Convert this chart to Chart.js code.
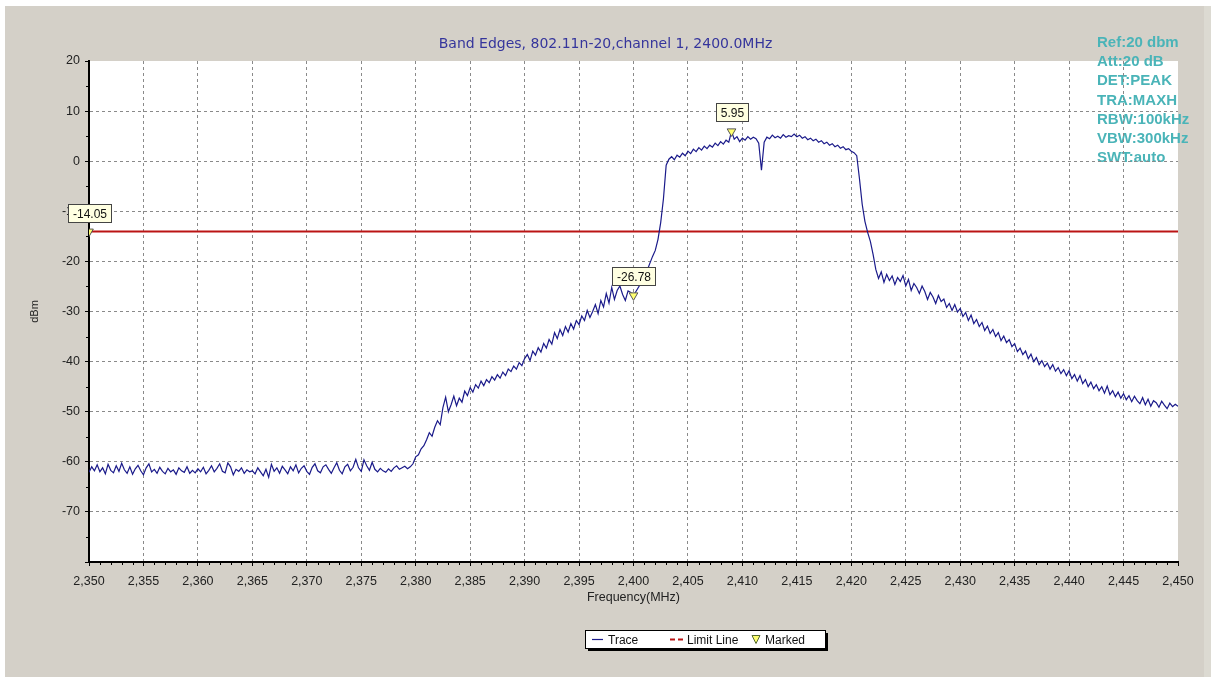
<!DOCTYPE html>
<html>
<head>
<meta charset="utf-8">
<script src="https://cdn.jsdelivr.net/npm/chart.js@4/dist/chart.umd.min.js"></script>
<style>
  html, body { margin: 0; padding: 0; background: #d4d0c8; }
  canvas { display: block; }
</style>
</head>
<body>
<canvas id="bandChart" width="1211" height="677"></canvas>
<script>
// 頻譜掃描資料 (每 0.25 MHz 一點, 從 2350 MHz 起)
const traceStartMHz = 2350;
const traceStepMHz = 0.25;
const traceLevels = [
  -62.1,-61.0,-61.8,-60.6,-62.0,-61.2,-62.4,-60.5,-61.7,-62.2,-60.8,-61.9,-60.3,-61.6,-62.3,-61.0,-62.5,-61.4,-60.7,-61.8,
  -62.6,-61.2,-60.4,-62.0,-61.5,-62.3,-61.1,-61.9,-62.4,-61.3,-62.0,-61.6,-62.5,-61.2,-61.8,-62.1,-61.0,-62.3,-61.7,-62.2,
  -61.4,-62.0,-61.1,-62.4,-61.7,-60.8,-62.0,-61.3,-60.4,-61.9,-62.2,-60.2,-61.0,-62.6,-61.5,-61.9,-61.2,-62.3,-61.6,-62.0,
  -61.8,-62.4,-61.2,-62.0,-62.8,-61.5,-63.1,-60.5,-61.9,-61.2,-62.3,-60.9,-61.6,-62.4,-61.0,-61.8,-60.6,-62.2,-61.3,-60.8,
  -61.9,-62.5,-61.1,-60.4,-61.8,-62.2,-61.0,-60.6,-61.5,-62.3,-61.2,-60.2,-61.7,-62.4,-61.0,-60.5,-61.8,-61.1,-59.5,-61.2,
  -61.9,-59.6,-60.8,-61.7,-60.1,-61.5,-62.0,-61.3,-61.8,-62.1,-61.4,-61.9,-61.2,-60.8,-61.5,-61.2,-60.9,-61.4,-61.0,-60.4,
  -59.0,-58.6,-57.4,-56.8,-55.6,-54.2,-54.9,-53.1,-51.8,-52.6,-49.2,-47.1,-50.0,-48.6,-46.9,-48.8,-47.3,-48.1,-45.9,-46.8,
  -45.2,-46.1,-44.6,-45.3,-43.9,-44.8,-43.6,-44.2,-43.0,-43.7,-42.6,-43.3,-42.1,-42.8,-41.5,-42.0,-40.9,-41.5,-40.2,-40.8,
  -39.4,-38.6,-39.8,-37.9,-38.7,-37.2,-38.1,-36.4,-37.3,-35.6,-36.5,-34.2,-35.4,-33.6,-34.8,-33.0,-34.1,-32.4,-33.5,-31.8,
  -32.6,-30.9,-31.8,-29.8,-31.2,-30.0,-28.6,-30.4,-27.8,-29.1,-26.4,-28.3,-25.2,-27.6,-25.8,-24.9,-26.6,-27.8,-25.9,-26.2,
  -26.8,-25.9,-25.0,-24.1,-23.0,-21.8,-20.4,-19.0,-17.8,-15.6,-12.2,-7.5,-0.8,0.4,0.9,0.3,1.2,0.8,1.6,1.1,
  2.0,1.5,2.4,1.9,2.7,2.2,3.0,2.5,3.2,2.8,3.6,3.1,3.9,3.4,4.2,3.8,5.95,4.4,4.9,3.9,
  4.6,4.2,4.9,4.4,4.8,4.5,3.6,-1.8,3.8,4.8,4.5,5.2,4.7,5.0,4.6,5.3,4.8,5.1,4.9,5.4,
  4.9,5.2,4.6,4.9,4.3,4.6,4.1,4.4,3.8,4.1,3.5,3.8,3.2,3.5,2.9,3.2,2.6,2.9,2.3,2.5,
  2.0,1.7,1.1,-3.5,-8.6,-12.0,-14.2,-16.0,-18.6,-21.6,-23.4,-22.1,-24.2,-22.6,-23.8,-22.9,-24.6,-23.2,-24.0,-22.8,
  -24.9,-23.6,-25.8,-24.4,-25.2,-26.4,-24.9,-26.0,-27.6,-26.2,-27.1,-28.4,-26.8,-28.0,-27.5,-29.2,-28.4,-29.8,-28.6,-30.1,
  -29.4,-31.0,-30.2,-31.8,-30.7,-32.4,-31.6,-33.0,-32.2,-33.8,-32.9,-34.4,-33.6,-35.0,-34.2,-35.8,-34.9,-36.2,-35.6,-37.0,
  -36.4,-38.0,-37.3,-38.6,-37.9,-39.4,-38.5,-40.0,-39.2,-40.6,-39.8,-41.0,-40.3,-41.5,-40.6,-41.9,-41.2,-42.4,-41.6,-42.8,
  -41.8,-43.4,-42.6,-43.9,-42.8,-44.4,-43.6,-45.0,-44.1,-45.4,-44.6,-45.8,-45.0,-46.3,-44.9,-46.6,-45.8,-47.0,-46.1,-47.3,
  -46.4,-47.6,-46.8,-48.0,-46.9,-47.8,-48.4,-47.2,-48.6,-47.5,-48.9,-47.8,-48.2,-49.1,-47.9,-48.7,-49.4,-48.3,-49.0,-48.5,
  -48.9
];

// 限制線
const limitFreqs = [2350, 2450];
const limitLevel = -14.05;

// 標記點
const markerFreqs = [2350, 2400, 2409];
const markerLevels = [-14.05, -26.78, 5.95];

// 軸設定
const xMin = 2350, xMax = 2450, xStep = 5;
const yMin = -80, yMax = 20, yStep = 10;

// 右上角儀器設定文字
const infoLines = ['Ref:20 dbm', 'Att:20 dB', 'DET:PEAK', 'TRA:MAXH', 'RBW:100kHz', 'VBW:300kHz', 'SWT:auto'];

const chartTitle = 'Band Edges, 802.11n-20,channel 1, 2400.0MHz';
const labelFont = '"Liberation Sans", Arial, sans-serif';

const tracePoints = traceLevels.map((v, i) => ({ x: traceStartMHz + i * traceStepMHz, y: v }));
const limitPoints = limitFreqs.map(f => ({ x: f, y: limitLevel }));
const markerPoints = markerFreqs.map((f, i) => ({ x: f, y: markerLevels[i] }));

const COLORS = {
    panel: '#d4d0c8',
    trace: '#1a1a8a',
    limit: '#bb1414',
    grid: '#8a8a8a',
    title: '#35359c',
    info: '#4ab4b8',
    marker: '#ffff70'
};

/**
 * 背景與儀器設定文字
 */
const backgroundPlugin = {
    id: 'background',
    beforeDraw(chart) {
        const { ctx, chartArea: a, width, height } = chart;
        ctx.save();
        ctx.fillStyle = COLORS.panel;
        ctx.fillRect(0, 0, width, height);
        ctx.fillStyle = '#ffffff';
        ctx.fillRect(0, 0, width, 6);
        ctx.fillRect(0, 0, 5, height);
        ctx.fillStyle = '#dcdad2';
        ctx.fillRect(width - 7, 6, 7, height - 6);
        ctx.fillStyle = '#ffffff';
        ctx.fillRect(a.left, a.top, a.right - a.left, a.bottom - a.top);

        ctx.fillStyle = COLORS.info;
        ctx.font = 'bold 15px ' + labelFont;
        ctx.textAlign = 'left';
        ctx.textBaseline = 'alphabetic';
        infoLines.forEach((line, i) => {
            ctx.fillText(line, 1097, 47 + i * 19.2);
        });
        ctx.restore();
    }
};

/**
 * 次刻度、標記標籤與圖例
 */
const overlayPlugin = {
    id: 'overlay',
    afterDraw(chart) {
        const { ctx, chartArea: a } = chart;
        const xs = chart.scales.x;
        const ys = chart.scales.y;
        ctx.save();

        // 次刻度
        ctx.strokeStyle = '#000';
        ctx.lineWidth = 1;
        ctx.beginPath();
        for (let f = xMin + 1; f < xMax; f += 1) {
            if (f % xStep === 0) continue;
            const px = Math.round(xs.getPixelForValue(f)) + 0.5;
            ctx.moveTo(px, a.bottom);
            ctx.lineTo(px, a.bottom + 3);
        }
        for (let v = yMin + 5; v < yMax; v += yStep) {
            const py = Math.round(ys.getPixelForValue(v)) + 0.5;
            ctx.moveTo(a.left - 3, py);
            ctx.lineTo(a.left, py);
        }
        ctx.stroke();

        // 標記數值框
        ctx.font = '12px ' + labelFont;
        ctx.textAlign = 'center';
        ctx.textBaseline = 'middle';
        markerFreqs.forEach((f, i) => {
            const px = xs.getPixelForValue(f);
            const py = ys.getPixelForValue(markerLevels[i]);
            const text = markerLevels[i].toFixed(2);
            const w = Math.ceil(ctx.measureText(text).width) + 8;
            const h = 18;
            const bx = Math.round(px - w / 2) + 0.5;
            const by = Math.round(py - 10 - h) + 0.5;
            ctx.fillStyle = '#ffffe1';
            ctx.fillRect(bx, by, w, h);
            ctx.strokeStyle = '#444';
            ctx.strokeRect(bx, by, w, h);
            ctx.fillStyle = '#111';
            ctx.fillText(text, bx + w / 2, by + h / 2 + 1);
        });

        // 圖例
        const lx = 585, ly = 630, lw = 240, lh = 18;
        ctx.fillStyle = '#000';
        ctx.fillRect(lx + 3, ly + 3, lw, lh);
        ctx.fillStyle = '#fff';
        ctx.fillRect(lx, ly, lw, lh);
        ctx.strokeStyle = '#000';
        ctx.strokeRect(lx + 0.5, ly + 0.5, lw, lh);

        const ds = chart.data.datasets;
        const midY = ly + lh / 2 + 0.5;
        ctx.textAlign = 'left';
        ctx.fillStyle = '#111';

        ctx.strokeStyle = COLORS.trace;
        ctx.lineWidth = 1.2;
        ctx.beginPath();
        ctx.moveTo(592, midY);
        ctx.lineTo(603, midY);
        ctx.stroke();
        ctx.fillText(ds[1].label, 608, midY + 1);

        ctx.strokeStyle = COLORS.limit;
        ctx.lineWidth = 2;
        ctx.setLineDash([5, 3]);
        ctx.beginPath();
        ctx.moveTo(670, midY);
        ctx.lineTo(684, midY);
        ctx.stroke();
        ctx.setLineDash([]);
        ctx.fillText(ds[2].label, 687, midY + 1);

        ctx.fillStyle = COLORS.marker;
        ctx.strokeStyle = '#556b2f';
        ctx.lineWidth = 1;
        ctx.beginPath();
        ctx.moveTo(752, midY - 4);
        ctx.lineTo(760, midY - 4);
        ctx.lineTo(756, midY + 4);
        ctx.closePath();
        ctx.fill();
        ctx.stroke();
        ctx.fillStyle = '#111';
        ctx.fillText(ds[0].label, 765, midY + 1);

        ctx.restore();
    }
};

const hideEdge = (edgeValues) => (ctx) =>
    (ctx.tick && edgeValues.includes(ctx.tick.value)) ? 'rgba(0,0,0,0)' : COLORS.grid;

new Chart(document.getElementById('bandChart'), {
    type: 'line',
    data: {
        datasets: [
            {
                label: 'Marked',
                data: markerPoints,
                showLine: false,
                pointStyle: 'triangle',
                rotation: 180,
                pointRadius: 5,
                pointBackgroundColor: COLORS.marker,
                pointBorderColor: '#555',
                pointBorderWidth: 1
            },
            {
                label: 'Trace',
                data: tracePoints,
                borderColor: COLORS.trace,
                borderWidth: 1.2,
                pointRadius: 0,
                tension: 0
            },
            {
                label: 'Limit Line',
                data: limitPoints,
                borderColor: COLORS.limit,
                borderWidth: 2,
                pointRadius: 0
            }
        ]
    },
    options: {
        responsive: false,
        animation: false,
        events: [],
        layout: { padding: { left: 0, right: 0, top: 0, bottom: 65 } },
        plugins: {
            legend: { display: false },
            tooltip: { enabled: false },
            title: {
                display: true,
                text: chartTitle,
                color: COLORS.title,
                font: { family: '"DejaVu Sans", Tahoma, sans-serif', size: 14, weight: 'normal' },
                padding: { top: 36, bottom: 8.2 }
            }
        },
        scales: {
            x: {
                type: 'linear',
                min: xMin,
                max: xMax,
                afterFit: s => { s.height = 50; },
                ticks: {
                    stepSize: xStep,
                    color: '#222',
                    font: { family: labelFont, size: 12.5 },
                    padding: 8,
                    maxRotation: 0
                },
                grid: { color: hideEdge([xMax]), lineWidth: 1, tickLength: 4, tickColor: '#000' },
                border: { color: '#000', width: 2, dash: [3, 3] },
                title: {
                    display: true,
                    text: 'Frequency(MHz)',
                    color: '#222',
                    font: { family: labelFont, size: 12.5 },
                    padding: { top: 0, bottom: 7 }
                }
            },
            y: {
                type: 'linear',
                min: yMin,
                max: yMax,
                afterFit: s => { s.width = 89; },
                ticks: {
                    stepSize: yStep,
                    color: '#222',
                    font: { family: labelFont, size: 12.5 },
                    padding: 5,
                    callback: v => (v === yMin ? '' : v)
                },
                grid: { color: hideEdge([yMax, yMin]), lineWidth: 1, tickLength: 4, tickColor: '#000' },
                border: { color: '#000', width: 2, dash: [3, 3] },
                title: {
                    display: true,
                    text: 'dBm',
                    color: '#222',
                    font: { family: labelFont, size: 11 },
                    padding: { top: 28, bottom: 0 }
                }
            },
            yRight: {
                type: 'linear',
                position: 'right',
                min: yMin,
                max: yMax,
                afterFit: s => { s.width = 33; },
                ticks: { display: false },
                grid: { display: false, drawTicks: false },
                border: { display: false }
            }
        }
    },
    plugins: [backgroundPlugin, overlayPlugin]
});
</script>
</body>
</html>
